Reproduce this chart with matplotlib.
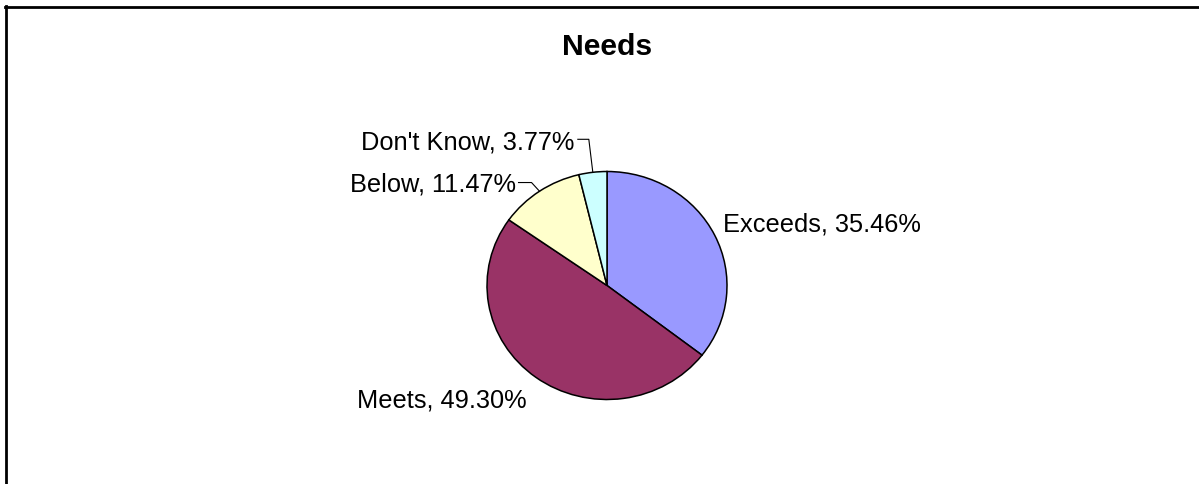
import matplotlib
matplotlib.use("Agg")
import matplotlib.pyplot as plt
from matplotlib.lines import Line2D
import numpy as np

plt.rcParams['font.family'] = ['Liberation Sans', 'DejaVu Sans']

# survey answers for the "Needs" question
categories = ["Exceeds", "Meets", "Below", "Don't Know"]
shares = [35.46, 49.30, 11.47, 3.77]
colors = ["#9999FF", "#993366", "#FFFFCC", "#CCFFFF"]

W, H = 1199, 484
fig = plt.figure(figsize=(W / 100, H / 100), dpi=100)

# pie centre and radii in pixels (slightly wider than tall)
cx, cy = 607, 285.5
rx, ry = 120, 114
ax = fig.add_axes([(cx - rx) / W, (H - cy - ry) / H, 2 * rx / W, 2 * ry / H])

wedges, _ = ax.pie(shares, colors=colors, startangle=90, counterclock=False,
                   radius=1,
                   wedgeprops=dict(edgecolor="black", linewidth=1.1,
                                   clip_on=False))
ax.set_aspect('auto')
ax.set_xlim(-1, 1)
ax.set_ylim(-1, 1)
ax.axis('off')

# label placement: text anchor offset (px) from mid-edge of wedge,
# horizontal alignment, optional leader (px points relative to edge)
label_opts = {
    "Exceeds": dict(off=(8, 4), ha="left", leader=None),
    "Meets": dict(off=(-9, -30), ha="right", leader=None),
    "Below": dict(off=(-24, 0), ha="right",
                  leader=[(-21, 8.7), (-8, 8.7), (0, 0)]),
    "Don't Know": dict(off=(-18, 23), ha="right",
                       leader=[(-15, 33), (-4, 33), (0, 0)]),
}

for w, name, val in zip(wedges, categories, shares):
    mid = np.deg2rad((w.theta1 + w.theta2) / 2)
    ex, ey = np.cos(mid), np.sin(mid)
    opt = label_opts[name]
    dx, dy = opt["off"]
    ax.text(ex + dx / rx, ey + dy / ry, f"{name}, {val:.2f}%",
            ha=opt["ha"], va="baseline", fontsize=18.3, clip_on=False)
    if opt["leader"]:
        lx = [ex + p[0] / rx for p in opt["leader"]]
        ly = [ey + p[1] / ry for p in opt["leader"]]
        ax.plot(lx, ly, color="black", linewidth=0.8, clip_on=False)

fig.text(cx / W, 1 - 55 / H, "Needs", ha="center", va="baseline",
         fontsize=21.7, fontweight="bold")

# chart area border (top and left edges only)
fig.add_artist(Line2D([4.5 / W, 1], [1 - 7 / H, 1 - 7 / H], color="black",
                      linewidth=2.0, transform=fig.transFigure))
fig.add_artist(Line2D([5.5 / W, 5.5 / W], [0, 1 - 6 / H], color="black",
                      linewidth=2.0, transform=fig.transFigure))

fig.savefig("out.png", dpi=100)
